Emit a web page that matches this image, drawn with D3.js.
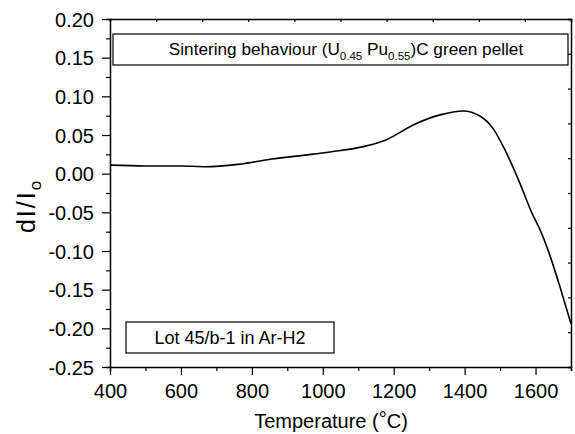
<!DOCTYPE html>
<head>
  <meta charset="utf-8">
  <script src="https://d3js.org/d3.v7.min.js"></script>
  <style>
    body { margin:0; background:#fff; }
    text { font-family: "Liberation Sans", Arial, sans-serif; fill:#000; }
  </style>
</head>

<body>
  <svg id="chart" width="575" height="434"></svg>
  <script>
    // curve
    const temps = [400, 500, 600, 668, 761, 856, 950, 1020, 1114, 1180, 1255, 1331, 1396, 1443, 1480, 1514, 1556, 1589, 1617, 1640, 1670, 1700];
    const dl = [0.011, 0.010, 0.010, 0.009, 0.012, 0.019, 0.024, 0.028, 0.035, 0.044, 0.063, 0.076, 0.081, 0.0745, 0.0586, 0.0305, -0.0126, -0.050, -0.077, -0.105, -0.148, -0.194];
    const xTicks = [400, 600, 800, 1000, 1200, 1400, 1600];

    const margin = {top: 19, right: 4, bottom: 67, left: 110};
    const width = 575, height = 434;
    const svg = d3.select("#chart");

    const x = d3.scaleLinear().domain([400, 1700]).range([margin.left, width - margin.right]);
    const y = d3.scaleLinear().domain([-0.25, 0.20]).range([height - margin.bottom, margin.top]);

    // bottom axis
    const xAxis = svg.append("g")
      .attr("transform", `translate(0,${y(-0.25)})`)
      .call(d3.axisBottom(x).tickValues(d3.range(400, 1701, 100)).tickSize(4).tickFormat(""));
    xAxis.selectAll(".tick")
      .filter(d => xTicks.includes(d))
      .select("line").attr("y2", 8);
    xAxis.selectAll(".tick")
      .filter(d => xTicks.includes(d))
      .append("text")
      .attr("y", 31).attr("text-anchor", "middle")
      .style("font-size", "20px")
      .text(d => d);

    // left axis
    const yAxis = svg.append("g")
      .attr("transform", `translate(${x(400)},0)`)
      .call(d3.axisLeft(y).tickValues(d3.range(-10, 9).map(i => i * 0.025)).tickSize(4).tickFormat(""));
    yAxis.selectAll(".tick")
      .filter(d => Math.abs(Math.round(d * 1000) % 50) === 0)
      .select("line").attr("x2", -8);
    yAxis.selectAll(".tick")
      .filter(d => Math.abs(Math.round(d * 1000) % 50) === 0)
      .append("text")
      .attr("x", -16).attr("dy", "0.36em").attr("text-anchor", "end")
      .style("font-size", "20px")
      .text(d => d3.format(".2f")(d).replace("−", "-"));

    // top and right axes: 10 equal divisions, inward ticks
    const topScale = d3.scaleLinear().domain([0, 10]).range(x.range());
    const rightScale = d3.scaleLinear().domain([0, 10]).range(y.range());
    svg.append("g")
      .attr("transform", `translate(0,${y(0.20)})`)
      .call(d3.axisBottom(topScale).ticks(10).tickSize(3).tickFormat(""));
    svg.append("g")
      .attr("transform", `translate(${x(1700)},0)`)
      .call(d3.axisLeft(rightScale).ticks(10).tickSize(3).tickFormat(""));

    svg.selectAll(".domain").attr("stroke-width", 1.5);
    svg.selectAll(".tick line").attr("stroke-width", 1.2);

    // curve
    const line = d3.line()
      .x((d, i) => x(temps[i]))
      .y(d => y(d))
      .curve(d3.curveMonotoneX);
    svg.append("path")
      .datum(dl)
      .attr("fill", "none")
      .attr("stroke", "#000")
      .attr("stroke-width", 1.6)
      .attr("d", line);

    // title box
    svg.append("rect")
      .attr("x", 113).attr("y", 34).attr("width", 455).attr("height", 31)
      .attr("fill", "#fff").attr("stroke", "#000").attr("stroke-width", 1.2);
    const t1 = svg.append("text")
      .attr("x", 346).attr("y", 55).attr("text-anchor", "middle")
      .style("font-size", "17.2px");
    t1.append("tspan").text("Sintering behaviour (U");
    t1.append("tspan").attr("dy", 5).style("font-size", "11.5px").text("0.45");
    t1.append("tspan").attr("dy", -5).text(" Pu");
    t1.append("tspan").attr("dy", 5).style("font-size", "11.5px").text("0.55");
    t1.append("tspan").attr("dy", -5).text(")C green pellet");

    // lot box
    svg.append("rect")
      .attr("x", 126).attr("y", 322).attr("width", 208).attr("height", 31)
      .attr("fill", "#fff").attr("stroke", "#000").attr("stroke-width", 1.2);
    svg.append("text")
      .attr("x", 230).attr("y", 344).attr("text-anchor", "middle")
      .style("font-size", "18px")
      .text("Lot 45/b-1 in Ar-H2");

    // axis titles
    const xt = svg.append("text")
      .attr("x", 331).attr("y", 428).attr("text-anchor", "middle")
      .style("font-size", "20px");
    xt.append("tspan").text("Temperature (");
    xt.append("tspan").attr("dy", -2).text("°");
    xt.append("tspan").attr("dy", 2).text("C)");

    const yt = svg.append("text")
      .attr("transform", "translate(35,206) rotate(-90)")
      .attr("text-anchor", "middle")
      .style("font-size", "25px")
      .style("letter-spacing", "2px");
    yt.append("tspan").text("dI/I");
    yt.append("tspan").attr("dy", 6).style("font-size", "17px").text("o");
  </script>
</body>
